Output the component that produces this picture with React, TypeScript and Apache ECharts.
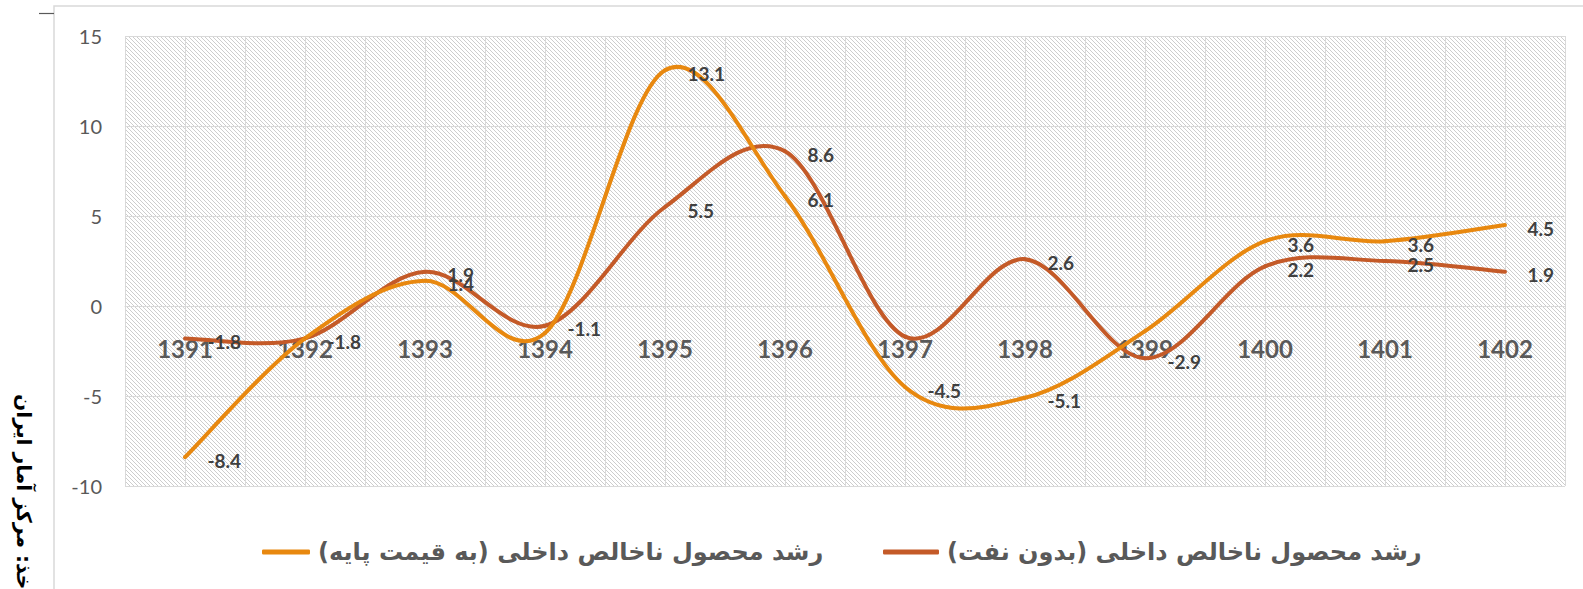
import React, { useEffect, useRef } from 'react';
import * as echarts from 'echarts';

// ---- data ----
const years = ['1391', '1392', '1393', '1394', '1395', '1396', '1397', '1398', '1399', '1400', '1401', '1402'];
const gdpBasePrice = [-8.4, -1.8, 1.4, -1.5, 13.1, 6.1, -4.5, -5.1, -1.4, 3.6, 3.6, 4.5];
const gdpNonOil = [-1.8, -1.8, 1.9, -1.1, 5.5, 8.6, -1.7, 2.6, -2.9, 2.2, 2.5, 1.9];
const hiddenBaseLabels = [1, 3, 8];
const hiddenNonOilLabels = [6];
const yMin = -10;
const yMax = 15;
const yStep = 5;
const seriesNames = [
  'رشد محصول ناخالص داخلی (به قیمت پایه)',
  'رشد محصول ناخالص داخلی (بدون نفت)',
];
const sourceText = 'مأخذ: مرکز آمار ایران';

const ORANGE = '#E8880F';
const BROWN = '#C45A28';
const RLM = '\u200F';

const GRID_TOP = 36;
const GRID_BOTTOM = 103;
const CHART_H = 589;

function makeHatch(): string {
  const c = document.createElement('canvas');
  c.width = 8;
  c.height = 8;
  const ctx = c.getContext('2d')!;
  ctx.fillStyle = '#ffffff';
  ctx.fillRect(0, 0, 8, 8);
  ctx.fillStyle = '#cdcdcd';
  for (let y = 0; y < 8; y++) {
    for (let x = 0; x < 8; x++) {
      if ((((x - y) % 4) + 4) % 4 === 0) ctx.fillRect(x, y, 1, 1);
    }
  }
  return c.toDataURL();
}

// Excel-like smoothed line (Catmull-Rom style bezier segments through the data points)
function makeCurve(name: string, vals: number[], color: string, z: number) {
  return {
    name,
    type: 'custom',
    xAxisIndex: 0,
    yAxisIndex: 0,
    z,
    silent: true,
    data: vals.map((v, i) => [i, v]),
    encode: { x: 0, y: 1 },
    itemStyle: { color },
    renderItem: (params: any, api: any) => {
      const i = params.dataIndexInside;
      const n = params.dataInsideLength;
      if (i >= n - 1) return { type: 'group', children: [] };
      const pt = (k: number) => api.coord([api.value(0, k), api.value(1, k)]);
      const p0 = pt(Math.max(i - 1, 0));
      const p1 = pt(i);
      const p2 = pt(i + 1);
      const p3 = pt(Math.min(i + 2, n - 1));
      return {
        type: 'bezierCurve',
        shape: {
          x1: p1[0],
          y1: p1[1],
          x2: p2[0],
          y2: p2[1],
          cpx1: p1[0] + (p2[0] - p0[0]) / 6,
          cpy1: p1[1] + (p2[1] - p0[1]) / 6,
          cpx2: p2[0] - (p3[0] - p1[0]) / 6,
          cpy2: p2[1] - (p3[1] - p1[1]) / 6,
        },
        style: { stroke: color, lineWidth: 4, fill: 'none', lineCap: 'round' },
      };
    },
  };
}

export default function App() {
  const ref = useRef<HTMLDivElement>(null);

  useEffect(() => {
    if (!ref.current) return;
    const chart = echarts.init(ref.current, undefined, { renderer: 'svg' });
    const hatch: any = { image: makeHatch(), repeat: 'repeat', imageWidth: 8, imageHeight: 8 };

    // move the category axis up to the zero line of the value axis
    const plotH = CHART_H - GRID_TOP - GRID_BOTTOM;
    const zeroOffset = -plotH * ((0 - yMin) / (yMax - yMin));

    const labelStyle = {
      show: true,
      position: 'right' as const,
      distance: 22,
      offset: [0, 3],
      fontFamily: 'Lato',
      fontWeight: 'bold' as const,
      fontSize: 19,
      color: '#404040',
    };

    const mkData = (vals: number[], hidden: number[]) =>
      vals.map((v, i) => (hidden.includes(i) ? { value: v, label: { show: false } } : { value: v }));

    const legendText = {
      fontFamily: 'DejaVu Sans',
      fontWeight: 'bold' as const,
      fontSize: 24,
      color: '#595959',
      padding: [0, 0, 0, 3],
    };

    const labelSeries = (name: string, vals: number[], hidden: number[], color: string, z: number) => ({
      name,
      type: 'line',
      xAxisIndex: 0,
      yAxisIndex: 0,
      data: mkData(vals, hidden),
      symbol: 'circle',
      symbolSize: 1,
      showSymbol: true,
      z,
      silent: true,
      itemStyle: { color },
      lineStyle: { width: 0, opacity: 0 },
      label: labelStyle,
    });

    chart.setOption({
      animation: false,
      grid: {
        left: 125,
        right: 18,
        top: GRID_TOP,
        bottom: GRID_BOTTOM,
        show: true,
        backgroundColor: hatch,
        borderWidth: 0,
      },
      legend: [
        {
          data: [{ name: seriesNames[0], itemStyle: { color: ORANGE } }],
          left: 257,
          top: 535,
          icon: 'roundRect',
          itemWidth: 48,
          itemHeight: 5,
          textStyle: legendText,
          formatter: (n: string) => n + RLM,
        },
        {
          data: [{ name: seriesNames[1], itemStyle: { color: BROWN } }],
          left: 878,
          top: 535,
          icon: 'roundRect',
          itemWidth: 56,
          itemHeight: 5,
          textStyle: legendText,
          formatter: (n: string) => n + RLM,
        },
      ],
      xAxis: [
        {
          type: 'category',
          data: years,
          boundaryGap: true,
          position: 'bottom',
          offset: zeroOffset,
          axisLine: { show: true, onZero: false, lineStyle: { color: '#d9d9d9', width: 1 } },
          axisTick: { show: false },
          splitLine: { show: false },
          axisLabel: {
            margin: 30,
            fontFamily: 'Lato',
            fontWeight: 'bold',
            fontSize: 24,
            color: '#595959',
          },
        },
        {
          type: 'value',
          min: 0,
          max: years.length * 2,
          interval: 1,
          position: 'top',
          axisLine: { show: false, onZero: false },
          axisTick: { show: false },
          axisLabel: { show: false },
          splitLine: { show: true, lineStyle: { color: '#d9d9d9', width: 1 } },
        },
      ],
      yAxis: {
        type: 'value',
        min: yMin,
        max: yMax,
        interval: yStep,
        axisLine: { show: false, onZero: false },
        axisTick: { show: false },
        axisLabel: { margin: 23, fontFamily: 'Lato', fontSize: 20, color: '#595959' },
        splitLine: { show: true, lineStyle: { color: '#d9d9d9', width: 1 } },
      },
      graphic: [
        {
          type: 'rect',
          shape: { x: 54, y: 6, width: 1600, height: 700 },
          style: { fill: 'none', stroke: '#d9d9d9', lineWidth: 1.5 },
          silent: true,
        },
        {
          type: 'line',
          shape: { x1: 39, y1: 13.5, x2: 54, y2: 13.5 },
          style: { stroke: '#595959', lineWidth: 1.2 },
          silent: true,
        },
        {
          type: 'text',
          x: 24,
          y: 394,
          rotation: -Math.PI / 2,
          style: {
            text: sourceText,
            fontFamily: 'DejaVu Sans',
            fontWeight: 'bold',
            fontSize: 20.3,
            fill: '#000000',
            align: 'left',
            verticalAlign: 'middle',
          },
          silent: true,
        },
      ],
      series: [
        makeCurve(seriesNames[1], gdpNonOil, BROWN, 2),
        makeCurve(seriesNames[0], gdpBasePrice, ORANGE, 3),
        labelSeries(seriesNames[1], gdpNonOil, hiddenNonOilLabels, BROWN, 4),
        labelSeries(seriesNames[0], gdpBasePrice, hiddenBaseLabels, ORANGE, 5),
      ],
    });

    return () => chart.dispose();
  }, []);

  return (
    <div
      ref={ref}
      style={{ position: 'fixed', left: 0, top: 0, width: 1583, height: 589, background: '#ffffff' }}
    />
  );
}
